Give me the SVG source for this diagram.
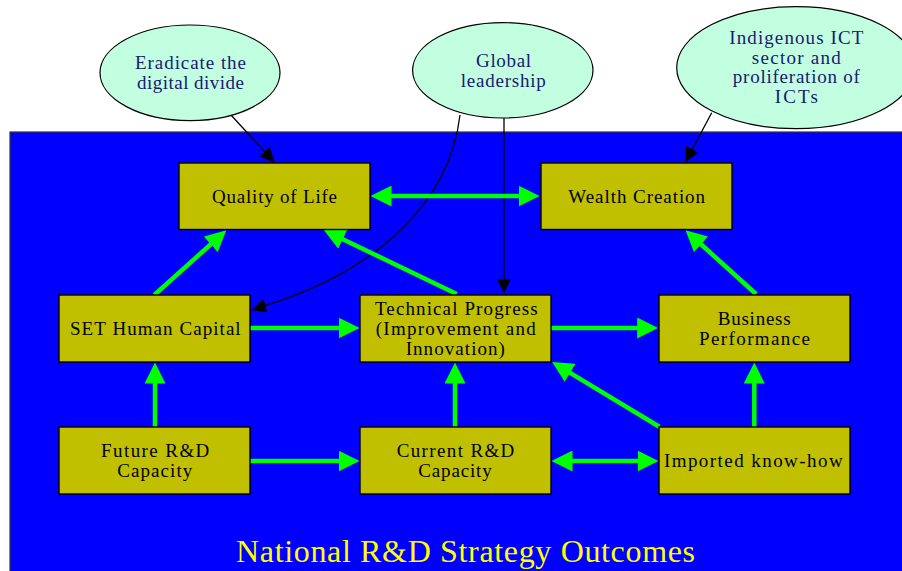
<svg xmlns="http://www.w3.org/2000/svg" width="902" height="571" viewBox="0 0 902 571">
<style>
.cluster{fill:#0000ff;stroke:#333333;stroke-width:1.2}
.goal ellipse{fill:#c1ffe0;stroke:#000;stroke-width:1.2}
.goal text{font-family:"Liberation Serif","Times New Roman",serif;font-size:19px;fill:#191970;text-anchor:middle}
.box rect{fill:#c0c000;stroke:#000;stroke-width:1.4}
.box text{font-family:"Liberation Serif","Times New Roman",serif;font-size:19px;fill:#000;text-anchor:middle}
.g{stroke:#00ff00;stroke-width:4.5;fill:none}
.k{stroke:#000;stroke-width:1.3;fill:none}
.title{font-family:"Liberation Serif","Times New Roman",serif;font-size:32px;fill:#ffff00;text-anchor:middle}
</style>
<defs>
<marker id="ga" markerUnits="userSpaceOnUse" viewBox="0 0 21 21" markerWidth="21" markerHeight="21" refX="0.5" refY="10.5" orient="auto-start-reverse">
<path d="M0,0 L21,10.5 L0,21 z" fill="#00ff00"/>
</marker>
<marker id="ka" markerUnits="userSpaceOnUse" viewBox="0 0 15 14" markerWidth="15" markerHeight="14" refX="0.5" refY="7" orient="auto">
<path d="M0,0 L15,7 L0,14 z" fill="#000"/>
</marker>
</defs>
<rect width="902" height="571" fill="#ffffff"/>
<g id="cluster">
<rect class="cluster" x="10" y="132" width="900" height="450"/>
<text class="title" x="465.5" y="562" textLength="459" lengthAdjust="spacing">National R&amp;D Strategy Outcomes</text>
</g>
<g id="connectors">
<path class="k" d="M231,115 L264.9,152" marker-end="url(#ka)"/>
<path class="k" d="M711.7,112.7 L692,149.7" marker-end="url(#ka)"/>
<path class="k" d="M504,118 L504,279" marker-end="url(#ka)"/>
<path class="k" d="M460,115 C450,200 380,270 265,305.7" marker-end="url(#ka)"/>
<path class="g" d="M391,196 L519,196" marker-start="url(#ga)" marker-end="url(#ga)"/>
<path class="g" d="M154.3,295 L211.1,244" marker-end="url(#ga)"/>
<path class="g" d="M456.7,294 L342.3,239" marker-end="url(#ga)"/>
<path class="g" d="M756,294 L700.7,244" marker-end="url(#ga)"/>
<path class="g" d="M250,328 L339,328" marker-end="url(#ga)"/>
<path class="g" d="M551,328 L637.7,328" marker-end="url(#ga)"/>
<path class="g" d="M155,427 L155,383" marker-end="url(#ga)"/>
<path class="g" d="M455,427 L455,383" marker-end="url(#ga)"/>
<path class="g" d="M754.3,427 L754.3,383" marker-end="url(#ga)"/>
<path class="g" d="M250,461 L339,461" marker-end="url(#ga)"/>
<path class="g" d="M572,461 L638,461" marker-start="url(#ga)" marker-end="url(#ga)"/>
<path class="g" d="M659.3,426.7 L569.7,372.6" marker-end="url(#ga)"/>
</g>
<g id="eradicate" class="goal">
<ellipse cx="190" cy="72.8" rx="90" ry="47.8"/>
<text x="190.5" y="69" textLength="111" lengthAdjust="spacing">Eradicate the</text>
<text x="190.5" y="88.7" textLength="107" lengthAdjust="spacing">digital divide</text>
</g>
<g id="global" class="goal">
<ellipse cx="502.8" cy="70.3" rx="90.2" ry="47.7"/>
<text x="503.5" y="66.7" textLength="55" lengthAdjust="spacing">Global</text>
<text x="503.3" y="86.7" textLength="85" lengthAdjust="spacing">leadership</text>
</g>
<g id="indigenous" class="goal">
<ellipse cx="796" cy="67.7" rx="119.3" ry="61"/>
<text x="796.3" y="44" textLength="134" lengthAdjust="spacing">Indigenous ICT</text>
<text x="796.3" y="64" textLength="89" lengthAdjust="spacing">sector and</text>
<text x="796.3" y="83.3" textLength="127" lengthAdjust="spacing">proliferation of</text>
<text x="796.3" y="103.3" textLength="43" lengthAdjust="spacing">ICTs</text>
</g>
<g id="quality" class="box">
<rect x="179" y="163" width="191" height="66.5"/>
<text x="274.5" y="202.7" textLength="125" lengthAdjust="spacing">Quality of Life</text>
</g>
<g id="wealth" class="box">
<rect x="541" y="163" width="191" height="66.5"/>
<text x="636.7" y="202.7" textLength="136.7" lengthAdjust="spacing">Wealth Creation</text>
</g>
<g id="set" class="box">
<rect x="59" y="295" width="191" height="67"/>
<text x="155.3" y="335" textLength="170.7" lengthAdjust="spacing">SET Human Capital</text>
</g>
<g id="tech" class="box">
<rect x="360" y="295" width="191" height="67"/>
<text x="456.3" y="315" textLength="162.7" lengthAdjust="spacing">Technical Progress</text>
<text x="455.7" y="335" textLength="160" lengthAdjust="spacing">(Improvement and</text>
<text x="455.3" y="355" textLength="99.3" lengthAdjust="spacing">Innovation)</text>
</g>
<g id="business" class="box">
<rect x="659" y="295" width="191" height="67"/>
<text x="754.2" y="325" textLength="73" lengthAdjust="spacing">Business</text>
<text x="754.5" y="345" textLength="111" lengthAdjust="spacing">Performance</text>
</g>
<g id="future" class="box">
<rect x="59" y="427" width="191" height="67"/>
<text x="155.2" y="456.7" textLength="108.3" lengthAdjust="spacing">Future R&amp;D</text>
<text x="154.8" y="476.7" textLength="75" lengthAdjust="spacing">Capacity</text>
</g>
<g id="current" class="box">
<rect x="360" y="427" width="191" height="67"/>
<text x="455.5" y="456.7" textLength="117.7" lengthAdjust="spacing">Current R&amp;D</text>
<text x="455" y="476.7" textLength="73.3" lengthAdjust="spacing">Capacity</text>
</g>
<g id="imported" class="box">
<rect x="659" y="427" width="191" height="67"/>
<text x="753.3" y="466.7" textLength="178.7" lengthAdjust="spacing">Imported know-how</text>
</g>
</svg>
